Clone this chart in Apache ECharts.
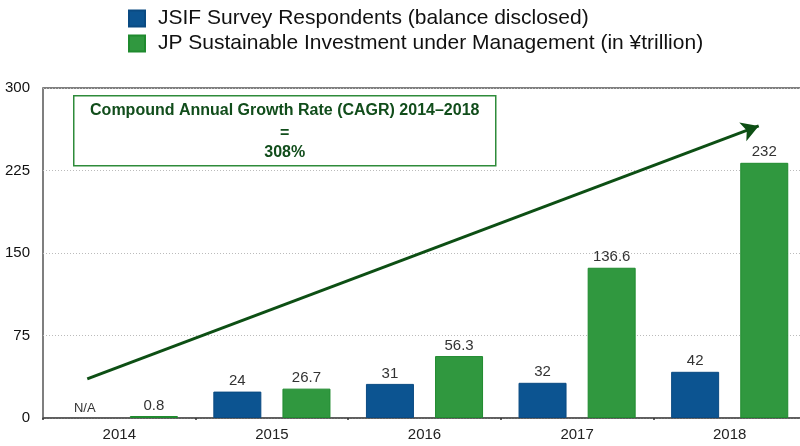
<!DOCTYPE html>
<html>
<head>
<meta charset="utf-8">
<script src="https://cdn.jsdelivr.net/npm/echarts@6/dist/echarts.min.js"></script>
<style>
html,body{margin:0;padding:0;background:#fff;}
#chart{width:800px;height:446px;}
</style>
</head>
<body>
<div id="chart"></div>
<script>
// ---- data ----
var years = ['2014', '2015', '2016', '2017', '2018'];
var jsifRespondents = [null, 24, 31, 32, 42];
var sustainableInvestment = [0.8, 26.7, 56.3, 136.6, 232];
var yTicks = [0, 75, 150, 225, 300];
var seriesNames = ['JSIF Survey Respondents (balance disclosed)', 'JP Sustainable Investment under Management (in ¥trillion)'];
var cagrText = ['Compound Annual Growth Rate (CAGR) 2014\u20132018', '=', '308%'];
// trend arrow in data space: [position along category band (0..5), value]
var arrowStart = [0.29, 35.5];
var arrowEnd = [4.69, 265.5];

var FONT = '"Liberation Sans", Arial, Helvetica, sans-serif';
var chart = echarts.init(document.getElementById('chart'));

var blueData = jsifRespondents.map(function (v) {
  if (v === null) {
    return { value: 0, itemStyle: { borderWidth: 0, color: 'rgba(0,0,0,0)' }, label: { formatter: 'N/A', fontSize: 13, color: '#333' } };
  }
  return v;
});

var option = {
  animation: false,
  backgroundColor: '#ffffff',
  legend: {
    orient: 'vertical',
    left: 123,
    top: 3,
    itemWidth: 16,
    itemHeight: 16,
    itemGap: 4,
    icon: 'rect',
    textStyle: { fontFamily: FONT, fontSize: 21, lineHeight: 21, color: '#111', padding: [0, 0, 0, 8] },
    data: seriesNames
  },
  grid: {
    left: 43, width: 763, top: 88, bottom: 28, containLabel: false, outerBoundsMode: 'none',
    show: true, borderColor: '#555', borderWidth: 1.5, backgroundColor: 'rgba(0,0,0,0)'
  },
  xAxis: [{
    type: 'category',
    data: years,
    axisLine: { show: true, lineStyle: { color: '#555', width: 1.5 } },
    axisTick: { show: true, length: 2, lineStyle: { color: '#333', width: 1.5 } },
    axisLabel: { fontFamily: FONT, fontSize: 15, color: '#222', margin: 9 },
    splitLine: { show: false }
  }, {
    type: 'value',
    position: 'top',
    min: 0,
    max: 5,
    show: false
  }],
  yAxis: {
    type: 'value',
    position: 'left',
    min: yTicks[0],
    max: yTicks[yTicks.length - 1],
    interval: yTicks[1] - yTicks[0],
    axisLine: { show: false },
    axisTick: { show: false },
    axisLabel: { fontFamily: FONT, fontSize: 15, color: '#111', margin: 13 },
    splitLine: { show: true, lineStyle: { color: '#bbb', type: [1, 2], width: 1 } }
  },
  series: [{
    name: seriesNames[0],
    type: 'bar',
    data: blueData,
    barWidth: 48,
    barGap: '44%',
    itemStyle: { color: '#0c5491', borderColor: '#0a4a82', borderWidth: 1 },
    label: { show: true, position: 'top', distance: 3, fontFamily: FONT, fontSize: 15, color: '#333' }
  }, {
    name: seriesNames[1],
    type: 'bar',
    data: sustainableInvestment,
    barWidth: 48,
    barMinHeight: 2,
    itemStyle: { color: '#30983f', borderColor: '#1f8a2e', borderWidth: 1 },
    label: { show: true, position: 'top', distance: 3, fontFamily: FONT, fontSize: 15, color: '#333' }
  }, {
    name: 'trend',
    type: 'line',
    xAxisIndex: 1,
    data: [],
    silent: true,
    markLine: {
      silent: true,
      symbol: ['none', 'arrow'],
      symbolSize: [15, 17],
      label: { show: false },
      lineStyle: { color: '#0d4f14', width: 3, type: 'solid' },
      data: [[{ coord: arrowStart }, { coord: arrowEnd }]]
    }
  }],
  graphic: [{
    type: 'group',
    left: 73,
    top: 95,
    children: [{
      type: 'rect',
      shape: { x: 0, y: 0, width: 422, height: 70 },
      style: { fill: '#fff', stroke: '#2e8b3a', lineWidth: 1.5 }
    }, {
      type: 'text',
      x: 211, y: 15,
      style: { text: cagrText[0], fontFamily: FONT, fontWeight: 'bold', fontSize: 16, fill: '#114d1b', textAlign: 'center', textVerticalAlign: 'middle' }
    }, {
      type: 'text',
      x: 211, y: 38,
      style: { text: cagrText[1], fontFamily: FONT, fontWeight: 'bold', fontSize: 16, fill: '#114d1b', textAlign: 'center', textVerticalAlign: 'middle' }
    }, {
      type: 'text',
      x: 211, y: 57,
      style: { text: cagrText[2], fontFamily: FONT, fontWeight: 'bold', fontSize: 16, fill: '#114d1b', textAlign: 'center', textVerticalAlign: 'middle' }
    }]
  }]
};
chart.setOption(option);
</script>
</body>
</html>
